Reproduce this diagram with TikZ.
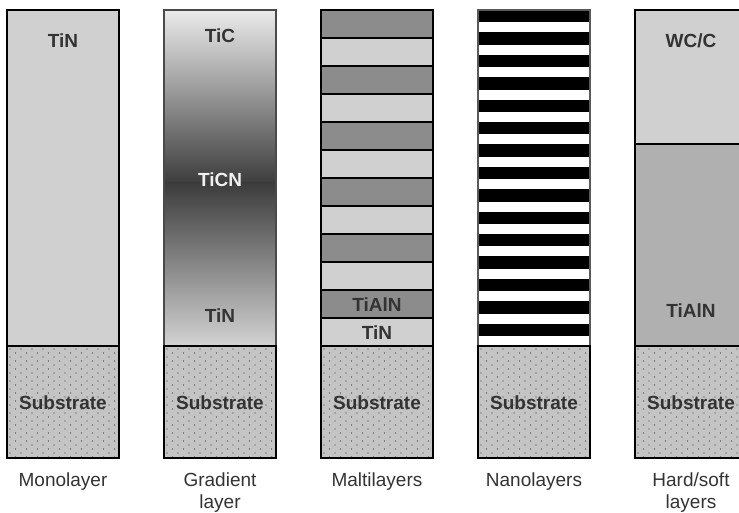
\documentclass[tikz,border=0pt]{standalone}
\usepackage{fontspec}
\setmainfont{Liberation Sans}
\definecolor{lite}{HTML}{D0D0D0}
\definecolor{dark}{HTML}{8C8C8C}
\definecolor{mid}{HTML}{B0B0B0}
\definecolor{subs}{HTML}{C4C4C4}
\definecolor{dotc}{HTML}{3A3A3A}
\definecolor{txt}{HTML}{333333}
\definecolor{gtop}{HTML}{EBEBEB}
\definecolor{gmid}{HTML}{3C3C3C}
\definecolor{gbot}{HTML}{D2D2D2}
\definecolor{grayedge}{HTML}{4A4A4A}
\definecolor{nanoedge}{HTML}{5A5A5A}
\begin{document}
\begin{tikzpicture}[x=1pt,y=-1pt,
  lbl/.style={font=\fontsize{19}{21}\selectfont\bfseries,text=txt,inner sep=0pt,anchor=base},
  captxt/.style={font=\fontsize{19}{22}\selectfont,text=txt,inner sep=0pt,align=center,anchor=north},
  frame/.style={draw=black,line width=2pt},
  sepline/.style={draw=black,line width=1.6pt},
]
\clip (0,0) rectangle (739,513);
% substrate blocks with dot texture
\foreach \x in {7,164,321,478,635}{
  \fill[subs] (\x,346) rectangle ++(112,112);
  \begin{scope}
    \clip (\x,346) rectangle ++(112,112);
    \foreach \r in {0,...,14}{
      \foreach \c in {0,...,10}{
        \fill[dotc] (\x+3+11*\c,349+8*\r) circle (0.65pt);
        \fill[dotc] (\x+8.5+11*\c,353+8*\r) circle (0.65pt);
      }}
  \end{scope}
}
% column 1: monolayer
\fill[lite] (7,10) rectangle (119,346);
% column 2: gradient
\shade[top color=gtop,bottom color=gmid] (164,10) rectangle (276,184);
\shade[top color=gmid,bottom color=gbot] (164,183) rectangle (276,346);
% column 3: multilayers
\foreach \k in {0,...,11}{
  \pgfmathparse{mod(\k,2)==0 ? "dark" : "lite"}
  \fill[\pgfmathresult] (321,10+28*\k) rectangle ++(112,28);
}
\foreach \k in {1,...,11}{
  \draw[sepline] (321,10+28*\k) -- ++(112,0);
}
% column 4: nanolayers
\fill[white] (478,10) rectangle (590,346);
\foreach \k in {0,...,14}{
  \fill[black] (478,10+22.4*\k) rectangle ++(112,12.4);
}
% column 5: hard/soft
\fill[lite] (635,10) rectangle (747,144);
\fill[mid] (635,144) rectangle (747,346);
\draw[sepline] (635,144) -- (747,144);
% frames of upper parts
\draw[frame] (7,10) rectangle (119,346);
\draw[draw=grayedge,line width=2pt] (164,10) rectangle (276,346);
\draw[frame] (321,10) rectangle (433,346);
\draw[draw=nanoedge,line width=1.6pt] (478,10) rectangle (590,346);
\draw[frame] (635,10) rectangle (747,346);
% frames of substrates
\foreach \x in {7,164,321,478,635}{
  \draw[frame] (\x,346) rectangle ++(112,112);
}
% layer labels
\node[lbl] (l1) at (63,48) {TiN};
\node[lbl] (l2a) at (220,43) {TiC};
\node[lbl,text=white!94!black] (l2b) at (220,187) {TiCN};
\node[lbl] (l2c) at (220,322) {TiN};
\node[lbl] (l3a) at (377,311) {TiAlN};
\node[lbl] (l3b) at (377,339) {TiN};
\node[lbl] (l5a) at (691,48) {WC/C};
\node[lbl] (l5b) at (691,317) {TiAlN};
\foreach \x [count=\i] in {63,220,377,534,691}{
  \node[lbl] (s\i) at (\x,409) {Substrate};
}
% captions
\node[captxt] (c1) at (63,473) {Monolayer};
\node[captxt] (c2) at (220,473) {Gradient\\layer};
\node[captxt] (c3) at (377,473) {Maltilayers};
\node[captxt] (c4) at (534,473) {Nanolayers};
\node[captxt] (c5) at (691,473) {Hard/soft\\layers};
\end{tikzpicture}
\end{document}
